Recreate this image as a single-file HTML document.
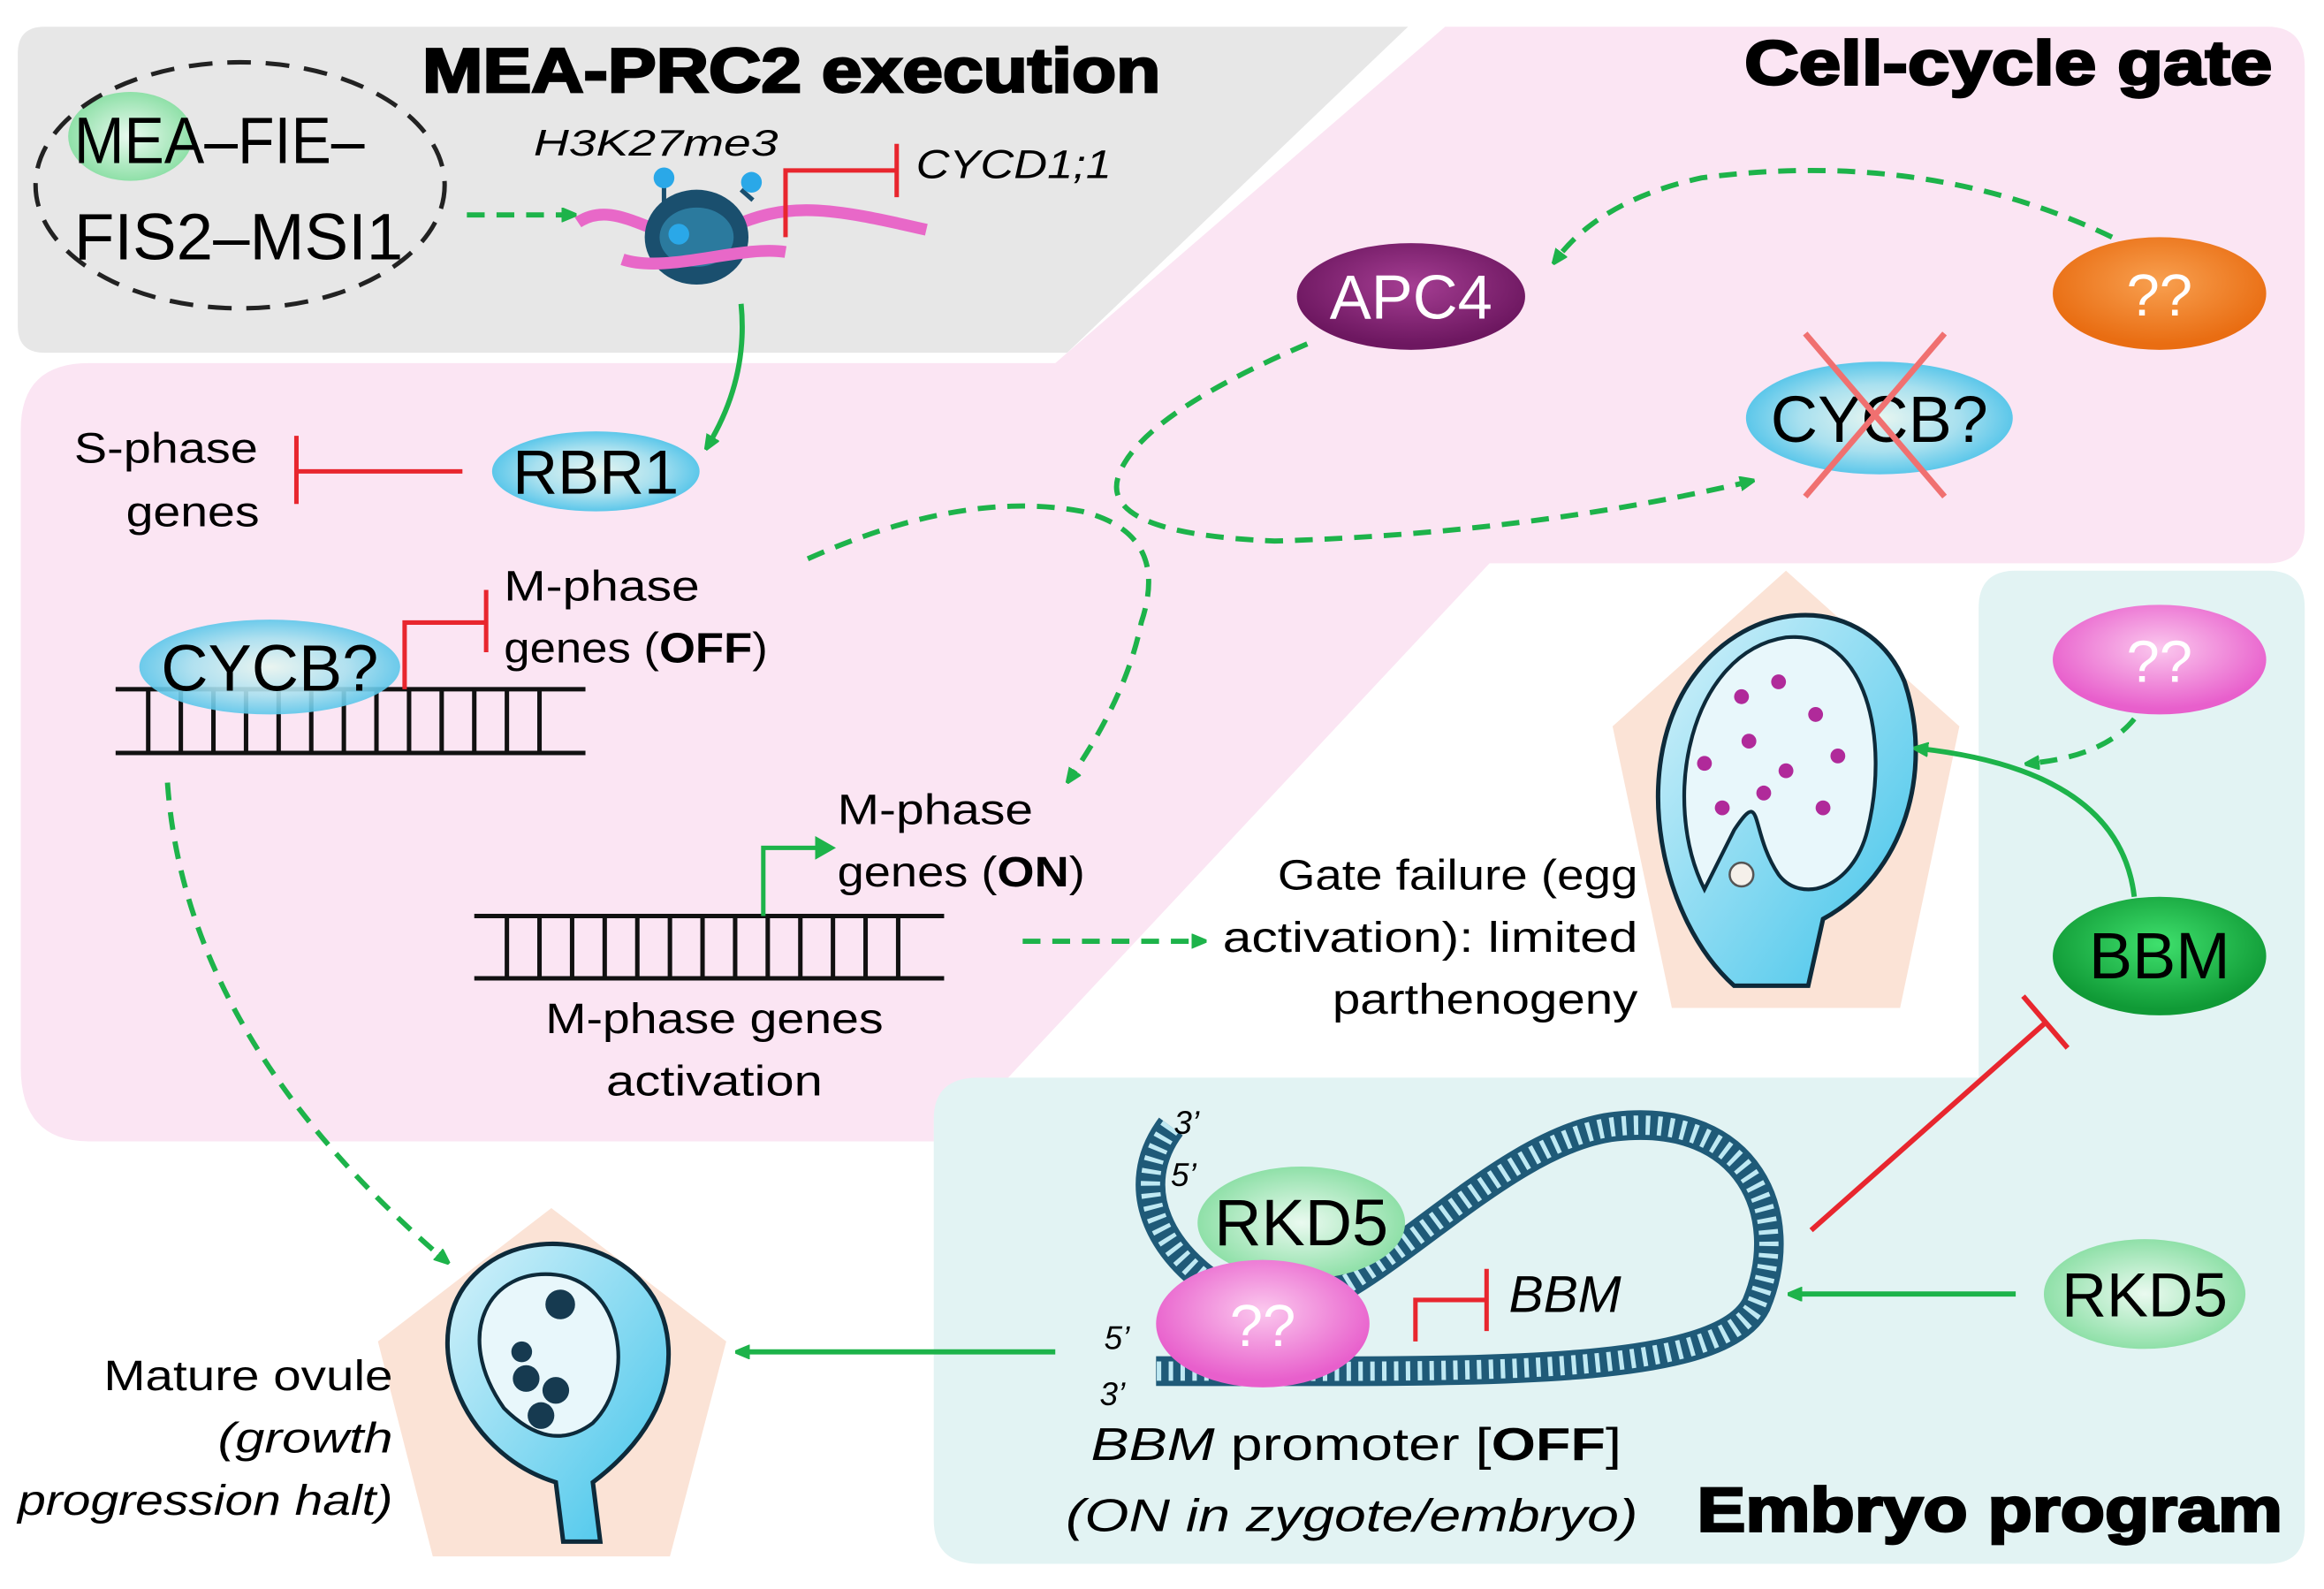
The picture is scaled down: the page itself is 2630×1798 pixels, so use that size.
<!DOCTYPE html>
<html><head><meta charset="utf-8"><style>
html,body{margin:0;padding:0;background:#fff}
svg{display:block}
text{font-family:"Liberation Sans",sans-serif}
.t{font-weight:bold;stroke:#000;stroke-width:1.6}
</style></head><body>
<svg width="2630" height="1798" viewBox="0 0 1568 1072" preserveAspectRatio="none" xmlns="http://www.w3.org/2000/svg">
<defs>
<marker id="ag" markerWidth="10" markerHeight="10" refX="6" refY="5" orient="auto" markerUnits="userSpaceOnUse"><path d="M0,0 L12,5 L0,10 z" fill="#1db34a" transform="scale(1.4) translate(-3,-1.5)"/></marker>
<radialGradient id="gBlue" cx="50%" cy="50%" r="50%"><stop offset="0" stop-color="#e8f6f0"/><stop offset="0.6" stop-color="#a8e0ef"/><stop offset="1" stop-color="#5cc7ea"/></radialGradient>
<radialGradient id="gGreenL" cx="50%" cy="50%" r="50%"><stop offset="0" stop-color="#eafaf0"/><stop offset="1" stop-color="#8fe0a8"/></radialGradient>
<radialGradient id="gPink" cx="50%" cy="40%" r="55%"><stop offset="0" stop-color="#fbc8ee"/><stop offset="1" stop-color="#e85fcc"/></radialGradient>
<radialGradient id="gOrange" cx="50%" cy="40%" r="55%"><stop offset="0" stop-color="#f8a050"/><stop offset="1" stop-color="#e96d12"/></radialGradient>
<radialGradient id="gPurple" cx="50%" cy="40%" r="55%"><stop offset="0" stop-color="#a53e93"/><stop offset="1" stop-color="#6d1760"/></radialGradient>
<radialGradient id="gGreen" cx="50%" cy="40%" r="55%"><stop offset="0" stop-color="#3fe06d"/><stop offset="1" stop-color="#109a36"/></radialGradient>
<linearGradient id="ov" x1="0" y1="0" x2="1" y2="1"><stop offset="0" stop-color="#d6f2fa"/><stop offset="1" stop-color="#3ec3ea"/></linearGradient>
</defs>

<path d="M30,18 H950 L720,238 H30 Q12,238 12,220 V36 Q12,18 30,18Z" fill="#e7e7e7"/>
<path d="M975,18 H1530 Q1555,18 1555,45 V355 Q1555,380 1530,380 H1005 L640,770 H60 Q14,770 14,720 V290 Q14,245 60,245 H712 Z" fill="#fbe5f3"/>
<path d="M1360,385 H1530 Q1555,385 1555,410 V1030 Q1555,1055 1530,1055 H660 Q630,1055 630,1025 V755 Q630,727 660,727 H1335 V410 Q1335,385 1360,385Z" fill="#e2f3f3"/>

<polygon points="1205,385 1322,490 1282,680 1128,680 1088,490" fill="#fbe3d6"/>
<polygon points="372,815 490,905 452,1050 292,1050 255,905" fill="#fbe3d6"/>

<text class="t" x="285" y="62" font-size="42" textLength="498" lengthAdjust="spacingAndGlyphs">MEA-PRC2 execution</text>
<text class="t" x="1177" y="57" font-size="42" textLength="356" lengthAdjust="spacingAndGlyphs">Cell-cycle gate</text>
<text class="t" x="1145" y="1033" font-size="42" textLength="395" lengthAdjust="spacingAndGlyphs">Embryo program</text>

<ellipse cx="88" cy="92" rx="42" ry="30" fill="url(#gGreenL)"/>
<ellipse cx="162" cy="125" rx="138" ry="83" fill="none" stroke="#222" stroke-width="3" stroke-dasharray="16,10"/>
<text x="50" y="110" font-size="44" textLength="196" lengthAdjust="spacingAndGlyphs">MEA–FIE–</text>
<text x="50" y="175" font-size="44" textLength="222" lengthAdjust="spacingAndGlyphs">FIS2–MSI1</text>
<line x1="315" y1="145" x2="385" y2="145" stroke="#1db34a" stroke-width="3.5" stroke-dasharray="12,8" marker-end="url(#ag)"/>

<text x="360" y="105" font-size="25" font-style="italic" textLength="165" lengthAdjust="spacingAndGlyphs">H3K27me3</text>
<path d="M390,150 C420,130 450,175 490,155 S560,140 625,155" stroke="#e868c8" stroke-width="8" fill="none"/>
<ellipse cx="470" cy="160" rx="35" ry="32" fill="#1a4f6e"/>
<ellipse cx="470" cy="160" rx="25" ry="20" fill="#2b7a9e"/>
<path d="M420,175 C450,185 500,165 530,170" stroke="#e868c8" stroke-width="8" fill="none"/>
<line x1="448" y1="138" x2="448" y2="122" stroke="#1a4f6e" stroke-width="3"/><circle cx="448" cy="120" r="7" fill="#2aa8e8"/>
<line x1="508" y1="135" x2="500" y2="128" stroke="#1a4f6e" stroke-width="3"/><circle cx="507" cy="123" r="7" fill="#2aa8e8"/>
<circle cx="458" cy="158" r="7" fill="#2aa8e8"/>
<path d="M530,160 V115 H605" stroke="#e8262e" stroke-width="3" fill="none"/>
<line x1="605" y1="97" x2="605" y2="133" stroke="#e8262e" stroke-width="3"/>
<text x="618" y="120" font-size="27" font-style="italic" textLength="132" lengthAdjust="spacingAndGlyphs">CYCD1;1</text>
<path d="M500,205 Q505,255 478,300" stroke="#1db34a" stroke-width="3.5" fill="none" marker-end="url(#ag)"/>

<ellipse cx="402" cy="318" rx="70" ry="27" fill="url(#gBlue)"/>
<text x="402" y="333" font-size="42" text-anchor="middle">RBR1</text>
<line x1="312" y1="318" x2="200" y2="318" stroke="#e8262e" stroke-width="3"/>
<line x1="200" y1="294" x2="200" y2="340" stroke="#e8262e" stroke-width="3"/>
<text x="112" y="312" font-size="29" text-anchor="middle" textLength="124" lengthAdjust="spacingAndGlyphs">S-phase</text>
<text x="130" y="355" font-size="29" text-anchor="middle" textLength="90" lengthAdjust="spacingAndGlyphs">genes</text>

<ellipse cx="952" cy="200" rx="77" ry="36" fill="url(#gPurple)"/>
<text x="952" y="215" font-size="42" text-anchor="middle" fill="#fff">APC4</text>
<ellipse cx="1457" cy="198" rx="72" ry="38" fill="url(#gOrange)"/>
<text x="1457" y="213" font-size="40" text-anchor="middle" fill="#fff">??</text>
<path d="M1425,160 Q1300,100 1148,120 Q1080,135 1050,175" stroke="#1db34a" stroke-width="3.5" fill="none" stroke-dasharray="12,8" marker-end="url(#ag)"/>
<ellipse cx="1268" cy="282" rx="90" ry="38" fill="url(#gBlue)"/>
<text x="1268" y="298" font-size="44" text-anchor="middle">CYCB?</text>
<line x1="1218" y1="225" x2="1312" y2="335" stroke="#f07070" stroke-width="4"/>
<line x1="1312" y1="225" x2="1218" y2="335" stroke="#f07070" stroke-width="4"/>
<path d="M882,232 Q770,280 755,320 Q740,360 860,365 Q1030,360 1180,325" stroke="#1db34a" stroke-width="3.5" fill="none" stroke-dasharray="12,8" marker-end="url(#ag)"/>
<path d="M545,377 Q650,330 730,345 Q790,360 770,420 Q760,470 722,525" stroke="#1db34a" stroke-width="3.5" fill="none" stroke-dasharray="12,8" marker-end="url(#ag)"/>

<g stroke="#111" stroke-width="3">
<line x1="78" y1="465" x2="395" y2="465"/><line x1="78" y1="508" x2="395" y2="508"/>
<path d="M100,465V508M122,465V508M144,465V508M166,465V508M188,465V508M210,465V508M232,465V508M254,465V508M276,465V508M298,465V508M320,465V508M342,465V508M364,465V508"/>
</g>
<ellipse cx="182" cy="450" rx="88" ry="32" fill="url(#gBlue)" opacity="0.9"/>
<text x="182" y="466" font-size="44" text-anchor="middle">CYCB?</text>
<path d="M273,465 V420 H328" stroke="#e8262e" stroke-width="3" fill="none"/>
<line x1="328" y1="398" x2="328" y2="440" stroke="#e8262e" stroke-width="3"/>
<text x="340" y="405" font-size="29" textLength="132" lengthAdjust="spacingAndGlyphs">M-phase</text>
<text x="340" y="447" font-size="29" textLength="178" lengthAdjust="spacingAndGlyphs">genes (<tspan font-weight="bold">OFF</tspan>)</text>
<path d="M113,528 Q125,700 300,850" stroke="#1db34a" stroke-width="3.5" fill="none" stroke-dasharray="12,8" marker-end="url(#ag)"/>

<g stroke="#111" stroke-width="3">
<line x1="320" y1="618" x2="637" y2="618"/><line x1="320" y1="660" x2="637" y2="660"/>
<path d="M342,618V660M364,618V660M386,618V660M408,618V660M430,618V660M452,618V660M474,618V660M496,618V660M518,618V660M540,618V660M562,618V660M584,618V660M606,618V660"/>
</g>
<path d="M515,618 V572 H553" stroke="#1db34a" stroke-width="3" fill="none"/>
<path d="M550,564 L564,572 L550,580z" fill="#1db34a"/>
<text x="565" y="556" font-size="29" textLength="132" lengthAdjust="spacingAndGlyphs">M-phase</text>
<text x="565" y="598" font-size="29" textLength="167" lengthAdjust="spacingAndGlyphs">genes (<tspan font-weight="bold">ON</tspan>)</text>
<text x="482" y="697" font-size="29" text-anchor="middle" textLength="228" lengthAdjust="spacingAndGlyphs">M-phase genes</text>
<text x="482" y="739" font-size="29" text-anchor="middle" textLength="146" lengthAdjust="spacingAndGlyphs">activation</text>
<line x1="690" y1="635" x2="810" y2="635" stroke="#1db34a" stroke-width="3.5" stroke-dasharray="12,8" marker-end="url(#ag)"/>
<text x="1105" y="600" font-size="29" text-anchor="end" textLength="243" lengthAdjust="spacingAndGlyphs">Gate failure (egg</text>
<text x="1105" y="642" font-size="29" text-anchor="end" textLength="280" lengthAdjust="spacingAndGlyphs">activation): limited</text>
<text x="1105" y="684" font-size="29" text-anchor="end" textLength="206" lengthAdjust="spacingAndGlyphs">parthenogeny</text>

<path d="M1170,665 C1120,620 1100,520 1140,460 C1180,400 1260,400 1285,460 C1305,520 1285,590 1230,620 L1220,665 Z" fill="url(#ov)" stroke="#0d2a3a" stroke-width="3"/>
<path d="M1150,600 C1120,540 1140,440 1205,430 C1260,425 1275,500 1260,560 C1250,600 1215,610 1200,590 C1180,560 1190,530 1170,560 Z" fill="#e8f7fb" stroke="#0d2a3a" stroke-width="2.5"/>
<g fill="#b02a9a"><circle cx="1175" cy="470" r="5"/><circle cx="1200" cy="460" r="5"/><circle cx="1225" cy="482" r="5"/><circle cx="1150" cy="515" r="5"/><circle cx="1180" cy="500" r="5"/><circle cx="1205" cy="520" r="5"/><circle cx="1240" cy="510" r="5"/><circle cx="1162" cy="545" r="5"/><circle cx="1230" cy="545" r="5"/><circle cx="1190" cy="535" r="5"/></g>
<circle cx="1175" cy="590" r="8" fill="#f5f0ea" stroke="#555" stroke-width="1.5"/>

<ellipse cx="1457" cy="445" rx="72" ry="37" fill="url(#gPink)"/>
<text x="1457" y="460" font-size="40" text-anchor="middle" fill="#fff">??</text>
<path d="M1440,485 Q1420,510 1370,515" stroke="#1db34a" stroke-width="3.5" fill="none" stroke-dasharray="12,8" marker-end="url(#ag)"/>
<ellipse cx="1457" cy="645" rx="72" ry="40" fill="url(#gGreen)"/>
<text x="1457" y="660" font-size="44" text-anchor="middle">BBM</text>
<path d="M1440,605 Q1430,520 1295,505" stroke="#1db34a" stroke-width="3.5" fill="none" marker-end="url(#ag)"/>
<line x1="1222" y1="830" x2="1380" y2="690" stroke="#e8262e" stroke-width="3.5"/>
<line x1="1365" y1="672" x2="1395" y2="707" stroke="#e8262e" stroke-width="3.5"/>
<ellipse cx="1447" cy="873" rx="68" ry="37" fill="url(#gGreenL)"/>
<text x="1447" y="888" font-size="42" text-anchor="middle">RKD5</text>
<line x1="1360" y1="873" x2="1210" y2="873" stroke="#1db34a" stroke-width="3.5" marker-end="url(#ag)"/>

<path d="M790,760 C760,800 780,850 840,880 C900,910 1000,770 1090,760 C1180,750 1210,820 1185,880 C1160,930 1000,925 780,925" stroke="#1f5a78" stroke-width="20" fill="none"/>
<path d="M790,760 C760,800 780,850 840,880 C900,910 1000,770 1090,760 C1180,750 1210,820 1185,880 C1160,930 1000,925 780,925" stroke="#bfe9f3" stroke-width="13" fill="none" stroke-dasharray="3,5"/>
<text x="792" y="765" font-size="22" font-style="italic">3’</text>
<text x="790" y="800" font-size="22" font-style="italic">5’</text>
<text x="745" y="910" font-size="22" font-style="italic">5’</text>
<text x="742" y="948" font-size="22" font-style="italic">3’</text>
<ellipse cx="878" cy="825" rx="70" ry="38" fill="url(#gGreenL)"/>
<text x="878" y="840" font-size="44" text-anchor="middle">RKD5</text>
<ellipse cx="852" cy="893" rx="72" ry="43" fill="url(#gPink)"/>
<text x="852" y="908" font-size="40" text-anchor="middle" fill="#fff">??</text>
<path d="M955,905 V877 H1003" stroke="#e8262e" stroke-width="3" fill="none"/>
<line x1="1003" y1="856" x2="1003" y2="898" stroke="#e8262e" stroke-width="3"/>
<text x="1018" y="885" font-size="35" font-style="italic">BBM</text>
<text x="915" y="985" font-size="31" text-anchor="middle" textLength="358" lengthAdjust="spacingAndGlyphs"><tspan font-style="italic">BBM</tspan> promoter [<tspan font-weight="bold">OFF</tspan>]</text>
<text x="912" y="1033" font-size="31" text-anchor="middle" font-style="italic" textLength="386" lengthAdjust="spacingAndGlyphs">(ON in zygote/embryo)</text>
<line x1="712" y1="912" x2="500" y2="912" stroke="#1db34a" stroke-width="3.5" marker-end="url(#ag)"/>

<path d="M375,1000 C310,980 280,900 320,860 C360,820 440,840 450,900 C458,950 420,985 400,1000 L405,1040 L380,1040 Z" fill="url(#ov)" stroke="#0d2a3a" stroke-width="3"/>
<path d="M340,950 C305,900 330,855 375,860 C420,865 430,930 400,960 C380,975 360,970 340,950Z" fill="#e8f7fb" stroke="#0d2a3a" stroke-width="2.5"/>
<circle cx="378" cy="880" r="10" fill="#163a50"/>
<circle cx="355" cy="930" r="9" fill="#163a50"/><circle cx="375" cy="938" r="9" fill="#163a50"/><circle cx="365" cy="955" r="9" fill="#163a50"/><circle cx="352" cy="912" r="7" fill="#163a50"/>
<text x="265" y="938" font-size="29" text-anchor="end" textLength="195" lengthAdjust="spacingAndGlyphs">Mature ovule</text>
<text x="265" y="980" font-size="29" text-anchor="end" font-style="italic" textLength="118" lengthAdjust="spacingAndGlyphs">(growth</text>
<text x="265" y="1022" font-size="29" text-anchor="end" font-style="italic" textLength="253" lengthAdjust="spacingAndGlyphs">progression halt)</text>
</svg>
</body></html>
